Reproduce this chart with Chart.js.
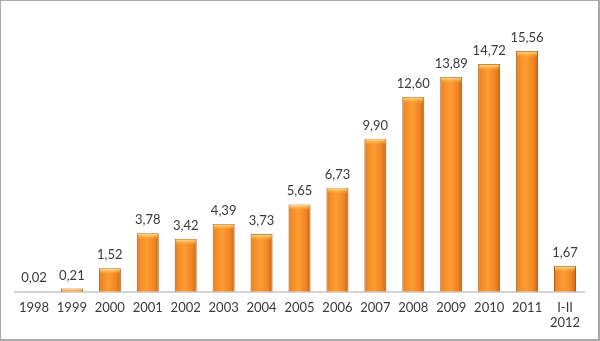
<!DOCTYPE html>
<html><head><meta charset="utf-8">
<script src="https://cdn.jsdelivr.net/npm/chart.js@4/dist/chart.umd.min.js"></script>
<style>
html,body{margin:0;padding:0;background:#fff;}
#wrap{position:relative;width:600px;height:341px;box-sizing:border-box;border:1px solid #a8a8a8;border-right-width:2px;border-bottom-width:2px;}
canvas{display:block;}
</style></head><body>
<div id="wrap"><canvas id="c" width="597" height="338"></canvas></div>
<script>
const categories = ["1998","1999","2000","2001","2002","2003","2004","2005","2006","2007","2008","2009","2010","2011",["I-II","2012"]];
const values = [0.02,0.21,1.52,3.78,3.42,4.39,3.73,5.65,6.73,9.90,12.60,13.89,14.72,15.56,1.67];
const valueLabels = ["0,02","0,21","1,52","3,78","3,42","4,39","3,73","5,65","6,73","9,90","12,60","13,89","14,72","15,56","1,67"];

const FONT = "Lato, 'Open Sans', sans-serif";
const BAR_PCT = 0.58;

function barGradient(ctx){
  const chart = ctx.chart;
  const xs = chart.scales && chart.scales.x;
  if(!xs || ctx.dataIndex === undefined) return '#f28a22';
  const cx = xs.getPixelForValue(ctx.dataIndex);
  const w = (xs.right - xs.left) / categories.length * BAR_PCT;
  if(!isFinite(cx) || !isFinite(w) || w <= 0) return '#f28a22';
  const g = chart.ctx.createLinearGradient(cx - w/2, 0, cx + w/2, 0);
  g.addColorStop(0, '#d8721a');
  g.addColorStop(0.12, '#f08a26');
  g.addColorStop(0.45, '#ff9c32');
  g.addColorStop(0.8, '#ef8424');
  g.addColorStop(1, '#c8650f');
  return g;
}

const bevelPlugin = {
  id:'bevel',
  afterDatasetsDraw(chart){
    const c = chart.ctx;
    const meta = chart.getDatasetMeta(0);
    c.save();
    meta.data.forEach((el,i)=>{
      const {x,y,base,width} = el.getProps(['x','y','base','width'],true);
      const h = base - y;
      const bh = Math.min(5, h);
      if(bh <= 1) return;
      const g = c.createLinearGradient(0, y, 0, y+bh);
      g.addColorStop(0, 'rgba(255,240,170,0.95)');
      g.addColorStop(1, 'rgba(255,190,80,0.2)');
      c.fillStyle = g;
      c.fillRect(x - width/2 + 1, y + 0.5, width - 2, bh);
    });
    c.restore();
  }
};

const labelPlugin = {
  id:'vlabels',
  afterDatasetsDraw(chart){
    const c = chart.ctx;
    const meta = chart.getDatasetMeta(0);
    c.save();
    c.font = "13px " + FONT;
    c.fillStyle = '#3a3a3a';
    c.textAlign = 'center';
    c.textBaseline = 'alphabetic';
    meta.data.forEach((el,i)=>{
      c.fillText(valueLabels[i], el.x, el.y - 9);
    });
    c.restore();
  }
};

new Chart(document.getElementById('c'), {
  type:'bar',
  data:{
    labels: categories,
    datasets:[{
      data: values,
      backgroundColor: barGradient,
      borderColor: '#a85510',
      borderWidth: 1,
      barPercentage: BAR_PCT,
      categoryPercentage: 1.0
    }]
  },
  options:{
    responsive:false,
    animation:false,
    devicePixelRatio:1,
    layout:{padding:{left:14,right:14,top:0,bottom:0}},
    plugins:{legend:{display:false},tooltip:{enabled:false}},
    scales:{
      y:{display:false,min:0,max:18.8},
      x:{
        grid:{display:false,drawTicks:false},
        border:{display:true,color:'#d4d4d4',width:2},
        ticks:{color:'#3a3a3a',font:{family:FONT,size:13},padding:8,maxRotation:0,autoSkip:false}
      }
    }
  },
  plugins:[bevelPlugin,labelPlugin]
});
</script>
</body></html>
